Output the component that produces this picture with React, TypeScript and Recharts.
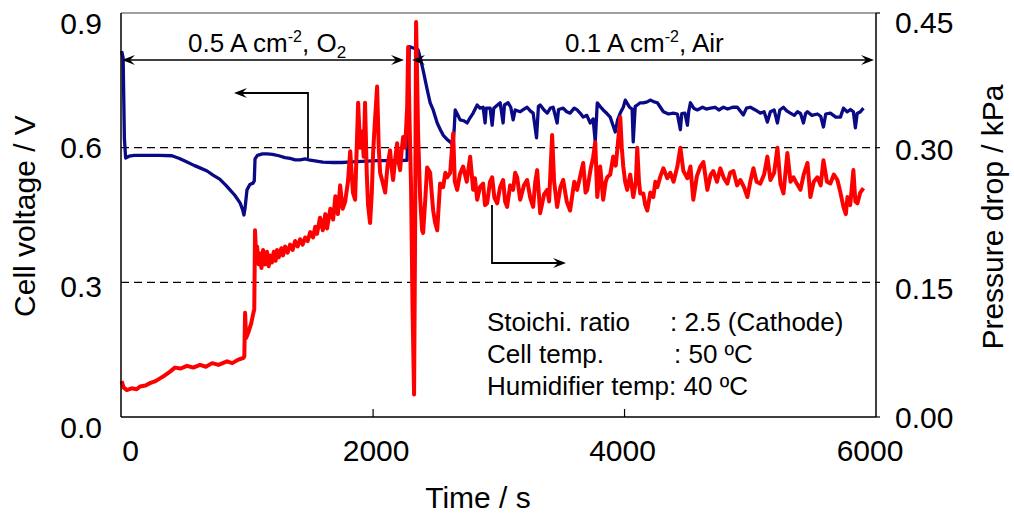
import { ComposedChart, Line, XAxis, YAxis, ReferenceLine } from 'recharts';

// time (s) vs cell voltage (V), O2 phase then air phase
const voltageO2: [number, number][] = [
    [0, 0.815], [12, 0.8], [22, 0.62], [32, 0.577], [60, 0.581], [100, 0.583], [200, 0.583], [300, 0.583],
    [400, 0.582], [460, 0.576], [520, 0.568], [580, 0.56], [623, 0.555], [680, 0.548], [727, 0.539],
    [780, 0.53], [830, 0.516], [862, 0.506], [900, 0.494], [942, 0.477], [962, 0.462], [973, 0.45],
    [982, 0.466], [997, 0.506], [1020, 0.518], [1045, 0.521], [1055, 0.526], [1061, 0.575], [1080, 0.583],
    [1120, 0.586], [1156, 0.586], [1200, 0.585], [1250, 0.582], [1300, 0.578], [1340, 0.576], [1380, 0.573],
    [1420, 0.573], [1460, 0.575], [1500, 0.572], [1550, 0.57], [1600, 0.568], [1683, 0.567], [1750, 0.567],
    [1800, 0.568], [1870, 0.569], [1950, 0.57], [2030, 0.571], [2100, 0.571], [2180, 0.571], [2270, 0.572],
];

const voltageAir: [number, number][] = [
    [2288, 0.825], [2320, 0.822], [2358, 0.818], [2380, 0.795], [2400, 0.77], [2430, 0.73], [2454, 0.7],
    [2478, 0.684], [2510, 0.655], [2535, 0.64], [2557, 0.628], [2590, 0.618], [2613, 0.613], [2635, 0.606],
    [2645, 0.64], [2653, 0.684], [2670, 0.675], [2692, 0.662], [2720, 0.66], [2748, 0.655], [2770, 0.666],
    [2796, 0.677], [2828, 0.695], [2850, 0.688], [2875, 0.69], [2891, 0.655], [2900, 0.688], [2931, 0.688],
    [2947, 0.65], [2960, 0.688], [2985, 0.694], [3011, 0.7], [3034, 0.655], [3045, 0.695], [3074, 0.7],
    [3095, 0.69], [3114, 0.662], [3130, 0.684], [3170, 0.68], [3200, 0.686], [3225, 0.69], [3250, 0.682],
    [3273, 0.677], [3300, 0.622], [3315, 0.692], [3329, 0.695], [3360, 0.684], [3385, 0.677], [3410, 0.688],
    [3432, 0.69], [3464, 0.655], [3475, 0.685], [3512, 0.688], [3540, 0.68], [3567, 0.677], [3600, 0.688],
    [3623, 0.684], [3650, 0.676], [3671, 0.668], [3700, 0.672], [3727, 0.655], [3750, 0.664], [3767, 0.613],
    [3783, 0.7], [3805, 0.692], [3830, 0.684], [3860, 0.676], [3886, 0.668], [3926, 0.635], [3945, 0.662],
    [3966, 0.677], [3990, 0.69], [4006, 0.706], [4040, 0.69], [4060, 0.686], [4069, 0.613], [4085, 0.692],
    [4101, 0.695], [4125, 0.7], [4149, 0.7], [4180, 0.702], [4205, 0.706], [4235, 0.702], [4261, 0.7],
    [4285, 0.69], [4309, 0.68], [4350, 0.675], [4388, 0.677], [4420, 0.675], [4444, 0.64], [4455, 0.676],
    [4480, 0.677], [4500, 0.65], [4510, 0.68], [4524, 0.7], [4550, 0.688], [4579, 0.684], [4620, 0.69],
    [4650, 0.686], [4683, 0.688], [4720, 0.69], [4750, 0.684], [4786, 0.69], [4820, 0.686], [4860, 0.69],
    [4897, 0.69], [4945, 0.673], [4970, 0.688], [5001, 0.69], [5040, 0.684], [5080, 0.677], [5110, 0.68],
    [5136, 0.657], [5160, 0.68], [5190, 0.684], [5216, 0.655], [5235, 0.684], [5264, 0.69], [5290, 0.682],
    [5319, 0.677], [5350, 0.672], [5375, 0.68], [5400, 0.676], [5423, 0.655], [5440, 0.676], [5455, 0.68],
    [5490, 0.672], [5534, 0.675], [5560, 0.67], [5582, 0.646], [5600, 0.675], [5637, 0.677], [5680, 0.668],
    [5717, 0.668], [5741, 0.688], [5770, 0.68], [5797, 0.685], [5820, 0.68], [5836, 0.644], [5850, 0.676],
    [5876, 0.68], [5900, 0.688],
];

// time (s) vs pressure drop (kPa)
const dropO2: [number, number][] = [
    [0, 0.04], [15, 0.033], [40, 0.03], [80, 0.032], [120, 0.031], [146, 0.034], [190, 0.035], [230, 0.038],
    [270, 0.04], [305, 0.043], [340, 0.046], [380, 0.05], [424, 0.055], [470, 0.054], [520, 0.057], [570, 0.055],
    [623, 0.058], [670, 0.056], [720, 0.06], [770, 0.058], [838, 0.062], [880, 0.06], [930, 0.064], [970, 0.066],
    [976, 0.068], [982, 0.116], [990, 0.088], [1010, 0.095], [1030, 0.104], [1045, 0.114], [1055, 0.12],
    [1061, 0.208], [1070, 0.178], [1077, 0.19], [1090, 0.17], [1100, 0.182], [1112, 0.166], [1125, 0.186],
    [1140, 0.17], [1156, 0.184], [1170, 0.168], [1181, 0.18], [1195, 0.172], [1210, 0.184], [1225, 0.174],
    [1236, 0.186], [1250, 0.178], [1270, 0.188], [1284, 0.18], [1300, 0.19], [1320, 0.183], [1340, 0.192],
    [1360, 0.186], [1380, 0.196], [1400, 0.19], [1420, 0.198], [1440, 0.192], [1460, 0.2], [1480, 0.196],
    [1500, 0.206], [1523, 0.2], [1540, 0.212], [1554, 0.204], [1578, 0.222], [1600, 0.208], [1620, 0.226],
    [1634, 0.21], [1660, 0.232], [1682, 0.22], [1700, 0.246], [1720, 0.226], [1738, 0.258], [1758, 0.232],
    [1778, 0.24], [1800, 0.262], [1818, 0.296], [1840, 0.25], [1857, 0.242], [1870, 0.3], [1881, 0.35],
    [1897, 0.3], [1913, 0.318], [1925, 0.29], [1936, 0.35], [1950, 0.27], [1960, 0.236], [1976, 0.216],
    [1990, 0.25], [2000, 0.294], [2015, 0.33], [2032, 0.368], [2045, 0.3], [2056, 0.272], [2075, 0.262],
    [2096, 0.25], [2115, 0.28], [2135, 0.297], [2147, 0.278], [2159, 0.264], [2175, 0.286], [2191, 0.305],
    [2203, 0.284], [2215, 0.275], [2228, 0.298], [2239, 0.312], [2255, 0.3], [2271, 0.345], [2279, 0.412],
    [2290, 0.33], [2302, 0.256],
];

const dropAir: [number, number][] = [
    [2314, 0.12], [2326, 0.025], [2334, 0.2], [2342, 0.44], [2350, 0.38], [2358, 0.316], [2374, 0.245],
    [2390, 0.208], [2398, 0.205], [2414, 0.24], [2430, 0.278], [2454, 0.272], [2466, 0.25], [2478, 0.23],
    [2494, 0.216], [2510, 0.208], [2533, 0.26], [2557, 0.256], [2575, 0.272], [2589, 0.267], [2613, 0.272],
    [2637, 0.316], [2650, 0.262], [2669, 0.253], [2690, 0.27], [2716, 0.279], [2745, 0.262], [2772, 0.29],
    [2796, 0.253], [2810, 0.266], [2828, 0.242], [2850, 0.256], [2875, 0.26], [2890, 0.236], [2907, 0.238],
    [2930, 0.262], [2947, 0.267], [2965, 0.244], [2987, 0.238], [3010, 0.256], [3034, 0.264], [3050, 0.24],
    [3066, 0.234], [3090, 0.258], [3114, 0.253], [3130, 0.272], [3146, 0.267], [3170, 0.242], [3200, 0.258],
    [3225, 0.264], [3250, 0.244], [3273, 0.234], [3290, 0.262], [3305, 0.275], [3329, 0.227], [3360, 0.248],
    [3385, 0.253], [3400, 0.24], [3424, 0.314], [3440, 0.262], [3464, 0.234], [3490, 0.256], [3512, 0.264],
    [3540, 0.24], [3567, 0.23], [3600, 0.262], [3623, 0.253], [3650, 0.27], [3671, 0.283], [3690, 0.25],
    [3703, 0.253], [3730, 0.276], [3751, 0.29], [3767, 0.306], [3783, 0.245], [3806, 0.279], [3830, 0.242],
    [3850, 0.262], [3862, 0.267], [3886, 0.27], [3910, 0.29], [3930, 0.28], [3942, 0.297], [3966, 0.334],
    [3978, 0.3], [3990, 0.279], [4005, 0.262], [4021, 0.253], [4045, 0.27], [4069, 0.245], [4090, 0.262],
    [4101, 0.3], [4115, 0.262], [4125, 0.249], [4149, 0.249], [4165, 0.236], [4181, 0.23], [4205, 0.25],
    [4229, 0.245], [4245, 0.262], [4261, 0.256], [4285, 0.268], [4309, 0.277], [4340, 0.266], [4364, 0.272],
    [4390, 0.262], [4420, 0.279], [4444, 0.3], [4468, 0.274], [4500, 0.266], [4524, 0.279], [4547, 0.242],
    [4575, 0.268], [4603, 0.279], [4627, 0.284], [4659, 0.253], [4685, 0.27], [4706, 0.274], [4735, 0.262],
    [4762, 0.277], [4790, 0.266], [4818, 0.26], [4840, 0.272], [4866, 0.274], [4895, 0.258], [4921, 0.264],
    [4950, 0.256], [4977, 0.245], [5000, 0.262], [5025, 0.277], [5050, 0.262], [5080, 0.26], [5110, 0.27],
    [5136, 0.29], [5160, 0.264], [5190, 0.272], [5216, 0.3], [5240, 0.26], [5264, 0.249], [5295, 0.294],
    [5320, 0.262], [5343, 0.267], [5370, 0.26], [5399, 0.253], [5425, 0.27], [5455, 0.283], [5478, 0.245],
    [5505, 0.262], [5534, 0.267], [5560, 0.258], [5582, 0.286], [5610, 0.262], [5637, 0.26], [5665, 0.27],
    [5693, 0.264], [5717, 0.25], [5741, 0.234], [5760, 0.226], [5773, 0.245], [5795, 0.236], [5820, 0.275],
    [5836, 0.24], [5852, 0.238], [5875, 0.25], [5900, 0.255],
];

const timeTicks = [0, 2000, 4000, 6000];
const voltageTicks = [0, 0.3, 0.6, 0.9];
const dropTicks = [0, 0.15, 0.3, 0.45];

const FONT = '"Liberation Sans", Arial, sans-serif';

const voltageData = [...voltageO2, ...voltageAir].map(([t, v]) => ({ t, v }));
const dropData = [...dropO2, ...dropAir].map(([t, p]) => ({ t, p }));

// small label nudges to sit like the original figure
const leftNudge: Record<string, number> = { '0.0': 10, '0.3': 4, '0.6': 0, '0.9': 10 };
const rightNudge: Record<string, number> = { '0.00': 0, '0.15': 6, '0.30': 2, '0.45': 9 };

const TimeTick = ({ x, y, payload }: any) => {
    const v = payload.value;
    const inner = v !== 0 && v !== 6000;
    const dx = v === 0 ? 9 : v === 6000 ? -6 : v === 2000 ? 3 : -2;
    return (
        <g>
            {inner && <line x1={x} x2={x} y1={y} y2={y - 8} stroke="#000" strokeWidth={1.2} />}
            <text x={x + dx} y={y + 44} textAnchor="middle" fontSize={30} fontFamily={FONT} fill="#000">
                {v}
            </text>
        </g>
    );
};

const VoltTick = ({ x, y, payload }: any) => {
    const label = Number(payload.value).toFixed(1);
    return (
        <text x={x - 19} y={y + (leftNudge[label] ?? 0)} textAnchor="end" dominantBaseline="central"
            fontSize={30} fontFamily={FONT} fill="#000">
            {label}
        </text>
    );
};

const DropTick = ({ x, y, payload }: any) => {
    const label = Number(payload.value).toFixed(2);
    return (
        <g>
            <line x1={x} x2={x + 4} y1={y} y2={y} stroke="#000" strokeWidth={1.2} />
            <text x={x + 19} y={y + (rightNudge[label] ?? 0)} textAnchor="start" dominantBaseline="central"
                fontSize={30} fontFamily={FONT} fill="#000">
                {label}
            </text>
        </g>
    );
};

const head = (x: number, y: number, dir: number) =>
    `${x},${y} ${x - dir * 13},${y - 5} ${x - dir * 8},${y} ${x - dir * 13},${y + 5}`;

const Annotations = () => (
    <svg width={1014} height={517} style={{ position: 'absolute', left: 0, top: 0, pointerEvents: 'none' }}
        fontFamily={FONT}>
        {/* phase arrows */}
        <line x1={124} x2={400} y1={60} y2={60} stroke="#000" strokeWidth={1.5} />
        <polygon points={head(122, 60, -1)} fill="#000" />
        <polygon points={head(404, 60, 1)} fill="#000" />
        <line x1={414} x2={870} y1={60} y2={60} stroke="#000" strokeWidth={1.5} />
        <polygon points={head(412, 60, -1)} fill="#000" />
        <polygon points={head(874, 60, 1)} fill="#000" />

        <text x={188} y={52} fontSize={26} fill="#000">
            0.5 A cm<tspan dy={-10} fontSize={16}>-2</tspan><tspan dy={10}>, O</tspan>
            <tspan dy={6} fontSize={17}>2</tspan>
        </text>
        <text x={565} y={52} fontSize={26} fill="#000">
            0.1 A cm<tspan dy={-10} fontSize={16}>-2</tspan><tspan dy={10}>, Air</tspan>
        </text>

        {/* axis pointers */}
        <polyline points="308,158 308,93 240,93" fill="none" stroke="#000" strokeWidth={1.8} />
        <polygon points={head(234, 93, -1)} fill="#000" />
        <polyline points="492,205 492,263 560,263" fill="none" stroke="#000" strokeWidth={1.8} />
        <polygon points={head(566, 263, 1)} fill="#000" />

        {/* conditions */}
        <g fontSize={26} fill="#000">
            <text x={487} y={331}>Stoichi. ratio</text>
            <text x={670} y={331}>: 2.5 (Cathode)</text>
            <text x={487} y={363}>Cell temp.</text>
            <text x={674} y={363}>: 50 ºC</text>
            <text x={487} y={395}>Humidifier temp: 40 ºC</text>
        </g>

        {/* axis titles */}
        <text x={35} y={216} fontSize={30} textAnchor="middle" transform="rotate(-90, 35, 216)">Cell voltage / V</text>
        <text x={1003} y={217} fontSize={30} textAnchor="middle" transform="rotate(-90, 1003, 217)">Pressure drop / kPa</text>
        <text x={478} y={508} fontSize={30} textAnchor="middle">Time / s</text>
    </svg>
);

const App = () => {
    return (
        <div style={{ position: 'relative', width: 1014, height: 517, background: '#fff' }}>
            <style>{'body { margin: 0; }'}</style>
            <ComposedChart width={1014} height={517} margin={{ top: 13, right: 0, bottom: 0, left: 0 }}>
                <XAxis dataKey="t" type="number" domain={[-5, 6000]} ticks={timeTicks} interval={0}
                    allowDuplicatedCategory={false} height={100} tickLine={false} tickSize={0} tickMargin={0}
                    axisLine={{ stroke: '#000', strokeWidth: 1.5 }} tick={<TimeTick />} />
                <YAxis yAxisId="left" orientation="left" width={121} domain={[0, 0.9]} ticks={voltageTicks}
                    interval={0} tickLine={false} tickSize={0} tickMargin={0}
                    axisLine={{ stroke: '#000', strokeWidth: 1.5 }} tick={<VoltTick />} />
                <YAxis yAxisId="right" orientation="right" width={138} domain={[0, 0.45]} ticks={dropTicks}
                    interval={0} tickLine={false} tickSize={0} tickMargin={0}
                    axisLine={{ stroke: '#000', strokeWidth: 1.5 }} tick={<DropTick />} />

                <ReferenceLine yAxisId="left" y={0.9} stroke="#808080" strokeWidth={1.5} />
                <ReferenceLine yAxisId="left" y={0.6} stroke="#000" strokeWidth={1.2} strokeDasharray="8 5" />
                <ReferenceLine yAxisId="left" y={0.3} stroke="#000" strokeWidth={1.2} strokeDasharray="8 5" />

                <Line yAxisId="left" data={voltageData} dataKey="v" type="linear" stroke="#0a0a86"
                    strokeWidth={3.3} strokeLinejoin="round" dot={false} isAnimationActive={false} />
                <Line yAxisId="right" data={dropData} dataKey="p" type="linear" stroke="#ff0000"
                    strokeWidth={4} strokeLinejoin="round" dot={false} isAnimationActive={false} />
            </ComposedChart>
            <Annotations />
        </div>
    );
};

export default App;
